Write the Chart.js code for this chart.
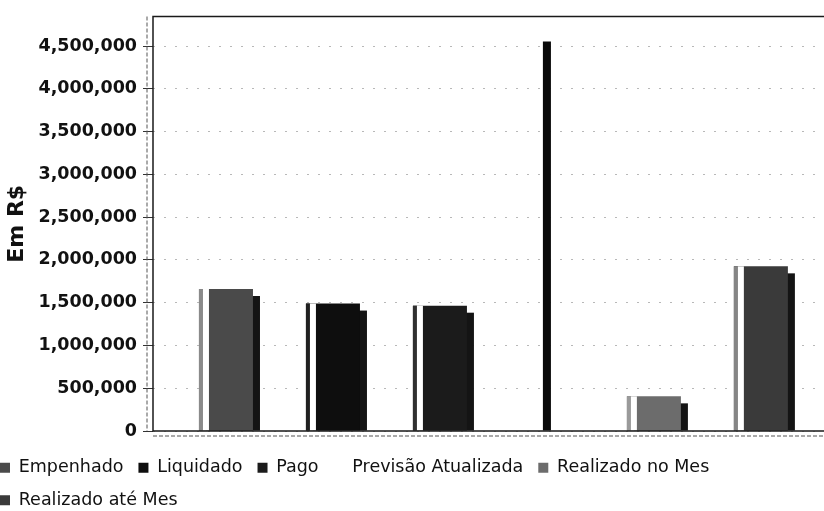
<!doctype html>
<html>
	<head>
		<meta charset="utf-8">
		<title>Em R$</title>
		<script src="https://cdn.jsdelivr.net/npm/chart.js@4/dist/chart.umd.min.js"></script>
		<style>
			html, body {
				margin: 0;
				padding: 0;
				background: #fff;
				overflow: hidden;
			}
			#wrapper {
				position: absolute;
				left: -15px;
				top: 0;
				width: 839px;
				height: 519px;
			}
		</style>
	</head>
	<body>
		<div id="wrapper"><canvas id="canvas"></canvas></div>

		<script>
			var series = ['Empenhado', 'Liquidado', 'Pago', 'Previsão Atualizada', 'Realizado no Mes', 'Realizado até Mes'];
			var values = [1660000, 1490000, 1465000, 4555000, 405000, 1925000];
			var yTicks = [0, 500000, 1000000, 1500000, 2000000, 2500000, 3000000, 3500000, 4000000, 4500000];

			var barColors = ['#4a4a4a', '#0e0e0e', '#1b1b1b', '#080808', '#6c6c6c', '#3a3a3a'];
			var stripeColors = ['#8a8a8a', '#202020', '#303030', null, '#9a9a9a', '#858585'];
			var barWidths = [0.505, 0.505, 0.505, 0.075, 0.505, 0.505];

			Chart.defaults.font.family = 'DejaVu Sans';
			Chart.defaults.color = '#111';

			// shadow behind bars, light stripe on the left of each bar, plot frame
			var barDeco = {
				id: 'barDeco',
				beforeDatasetsDraw: function(chart) {
					var ctx = chart.ctx;
					ctx.save();
					ctx.fillStyle = '#141414';
					chart.data.datasets.forEach(function(ds, i) {
						if (!stripeColors[i]) return;
						chart.getDatasetMeta(i).data.forEach(function(el) {
							var p = el.getProps(['x', 'y', 'base', 'width'], true);
							ctx.fillRect(p.x - p.width / 2 + 7, p.y + 7, p.width, p.base - p.y - 7);
						});
					});
					ctx.restore();
				},
				afterDatasetsDraw: function(chart) {
					var ctx = chart.ctx;
					var a = chart.chartArea;
					ctx.save();
					chart.data.datasets.forEach(function(ds, i) {
						if (!stripeColors[i]) return;
						chart.getDatasetMeta(i).data.forEach(function(el) {
							var p = el.getProps(['x', 'y', 'base', 'width'], true);
							var left = p.x - p.width / 2;
							ctx.fillStyle = stripeColors[i];
							ctx.fillRect(left, p.y, 4, p.base - p.y);
							ctx.fillStyle = '#fff';
							ctx.fillRect(left + 4, p.y, 6, p.base - p.y);
						});
					});

					ctx.strokeStyle = '#1a1a1a';
					ctx.lineWidth = 1.5;
					ctx.beginPath();
					ctx.moveTo(a.right, a.top);
					ctx.lineTo(a.left, a.top);
					ctx.lineTo(a.left, a.bottom);
					ctx.lineTo(a.right, a.bottom);
					ctx.stroke();

					ctx.strokeStyle = '#555';
					ctx.lineWidth = 1;
					ctx.setLineDash([4, 2]);
					ctx.beginPath();
					ctx.moveTo(a.left - 6, a.top);
					ctx.lineTo(a.left - 6, a.bottom);
					ctx.moveTo(a.left, a.bottom + 5);
					ctx.lineTo(a.right, a.bottom + 5);
					ctx.stroke();
					ctx.restore();
				}
			};

			var datasets = series.map(function(name, i) {
				return {
					label: name,
					data: [{ x: i, y: values[i] }],
					backgroundColor: barColors[i],
					borderWidth: 0,
					grouped: false,
					categoryPercentage: 1,
					barPercentage: barWidths[i]
				};
			});

			new Chart(document.getElementById('canvas'), {
				type: 'bar',
				data: { datasets: datasets },
				plugins: [barDeco],
				options: {
					responsive: true,
					maintainAspectRatio: false,
					animation: false,
					layout: { padding: { top: 12, right: 0, bottom: 0, left: 0 } },
					scales: {
						x: {
							type: 'linear',
							offset: false,
							min: -0.682,
							max: 5.59,
							afterBuildTicks: function(scale) {
								scale.ticks = series.map(function(s, i) { return { value: i }; });
							},
							afterFit: function(scale) { scale.height = 13; },
							ticks: { display: false },
							border: { display: false },
							grid: { display: false }
						},
						y: {
							min: 0,
							max: 4846000,
							afterBuildTicks: function(scale) {
								scale.ticks = yTicks.map(function(v) { return { value: v }; });
							},
							afterFit: function(scale) { scale.width = 168; },
							border: { display: false, dash: [2, 9] },
							grid: {
								color: '#b8b8b8',
								tickColor: '#333',
								tickLength: 10,
								tickBorderDash: []
							},
							ticks: {
								padding: 6,
								font: { size: 17.5, weight: 'bold' },
								color: '#111',
								callback: function(v) { return v.toLocaleString('en-US'); }
							},
							title: {
								display: true,
								text: 'Em R$',
								color: '#111',
								font: { size: 22, weight: 'bold' },
								padding: { top: 19, bottom: 0 }
							}
						}
					},
					plugins: {
						tooltip: { enabled: false },
						legend: {
							position: 'bottom',
							align: 'start',
							labels: {
								boxWidth: 10,
								boxHeight: 10,
								padding: 15,
								color: '#111',
								font: { size: 17.5 },
								generateLabels: function(chart) {
									var items = Chart.defaults.plugins.legend.labels.generateLabels(chart);
									items.forEach(function(item, i) {
										if (!stripeColors[i]) {
											item.fillStyle = 'rgba(0,0,0,0)';
											item.strokeStyle = 'rgba(0,0,0,0)';
										}
									});
									return items;
								}
							}
						}
					}
				}
			});
		</script>
	</body>
</html>
